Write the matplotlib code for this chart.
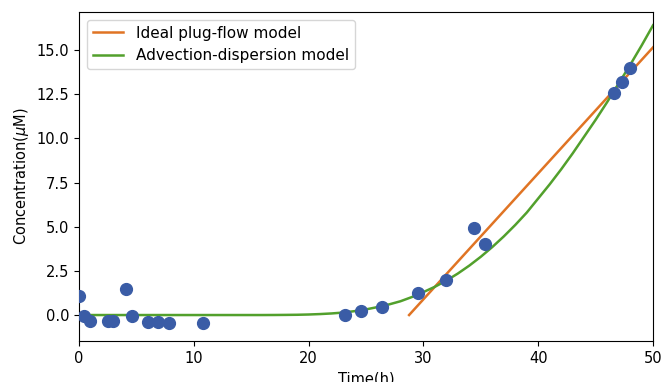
# Concentration breakthrough: measured points vs. two transport models

import numpy as np
import matplotlib.pyplot as plt

# Measured data
time_obs = [0.0, 0.4, 1.0, 2.5, 3.0, 4.1, 4.6, 6.0, 6.9, 7.8, 10.8,
            23.2, 24.6, 26.4, 29.5, 32.0, 34.4, 35.4, 46.6, 47.3, 48.0]
conc_obs = [1.08, -0.05, -0.35, -0.35, -0.35, 1.47, -0.05, -0.4, -0.4, -0.45, -0.45,
            0.0, 0.23, 0.45, 1.25, 2.0, 4.9, 4.0, 12.55, 13.2, 14.0]

# Ideal plug-flow model (straight line after the lag time)
plug_t = [28.75, 50.0]
plug_c = [0.0, 15.15]

# Advection-dispersion model
ad_t = [0, 10, 15, 16, 17, 18, 19, 20, 21, 22, 23, 24, 25, 26, 27, 28, 29, 30,
        31, 32, 33, 34, 35, 36, 37, 38, 39, 40, 41, 42, 43, 44, 45, 46, 47, 48, 49, 50]
ad_c = [0.0, 0.0, 0.0, 0.0, 0.003, 0.008, 0.015, 0.03, 0.055, 0.09, 0.14, 0.22,
        0.32, 0.45, 0.6, 0.78, 1.02, 1.3, 1.6, 1.95, 2.35, 2.8, 3.3, 3.85, 4.45,
        5.1, 5.8, 6.6, 7.4, 8.25, 9.15, 10.1, 11.05, 12.05, 13.1, 14.15, 15.25, 16.4]

fig = plt.figure(figsize=(6.61, 3.82), dpi=100)
ax = fig.add_axes([0.1195, 0.1073, 0.8685, 0.8613])

ax.plot(time_obs, conc_obs, 'o', color='#3a5ca6', markersize=8.5, zorder=3)
ax.plot(plug_t, plug_c, color='#e07424', lw=1.8, label='Ideal plug-flow model')
ax.plot(ad_t, ad_c, color='#52a02c', lw=1.8, label='Advection-dispersion model')

ax.set_xlim(0, 50)
ax.set_ylim(-1.47, 17.15)
ax.set_yticks(np.arange(0, 15.1, 2.5))
ax.set_xlabel('Time(h)', fontsize=10.5)
ax.set_ylabel(r'Concentration($\mu$M)', fontsize=10.5)
ax.tick_params(labelsize=10.5)
ax.legend(loc='upper left', fontsize=11)

fig.savefig('out.png', dpi=100)
